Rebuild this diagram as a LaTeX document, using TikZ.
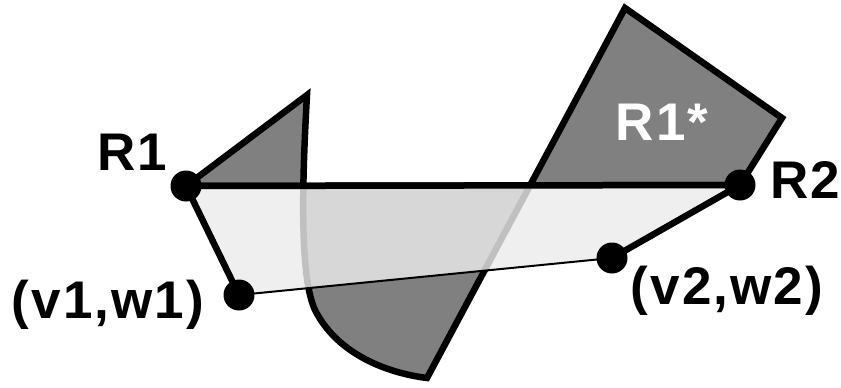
\documentclass[tikz,border=0pt]{standalone}
\usepackage{fontspec}
\setmainfont{Liberation Sans}
\newfontfamily\labfont[LetterSpace=4]{Liberation Sans}
\definecolor{darkfill}{gray}{0.5}
\definecolor{lightfill}{gray}{0.922}
\begin{document}
\begin{tikzpicture}[x=1pt,y=-1pt,
  dot/.style={circle,fill=black,inner sep=0pt,minimum size=31pt},
  lab/.style={font=\labfont\fontsize{53}{53}\selectfont\bfseries,inner sep=0pt},
  thickedge/.style={line width=6.5pt,line join=miter},
  thinedge/.style={line width=2pt}]
\useasboundingbox (0,0) rectangle (841,388);
% vertices
\coordinate (p1) at (186,186);
\coordinate (p2) at (740,185);
\coordinate (p3) at (612,258);
\coordinate (p4) at (239,295);
\coordinate (A) at (307,95);
\coordinate (B) at (427,378);
\coordinate (C) at (625,8);
\coordinate (D) at (782,118);
% dark region
\draw[thickedge,fill=darkfill] (p1) -- (A)
  .. controls (301,200) and (301,280) .. (315,310)
  .. controls (335,350) and (380,372) .. (B)
  -- (C) -- (D) -- (p2) -- cycle;
% light translucent region
\fill[lightfill,opacity=0.82] (p1) -- (p2) -- (p3) -- (p4) -- cycle;
% edges of the light region
\draw[thickedge] (p4) -- (p1) -- (p2) -- (p3);
\draw[thinedge] (p3) -- (p4);
% dots
\node[dot] (R1) at (p1) {};
\node[dot] (R2) at (p2) {};
\node[dot] (V2) at (p3) {};
\node[dot] (V1) at (p4) {};
% labels
\node[lab] (lR1) at (132,152) {R1};
\node[lab] (lR2) at (805,180) {R2};
\node[lab,text=white] (lR1s) at (662,122) {R1*};
\node[lab] (lV1) at (108,305) {(v1,w1)};
\node[lab] (lV2) at (727,291) {(v2,w2)};
\end{tikzpicture}
\end{document}
